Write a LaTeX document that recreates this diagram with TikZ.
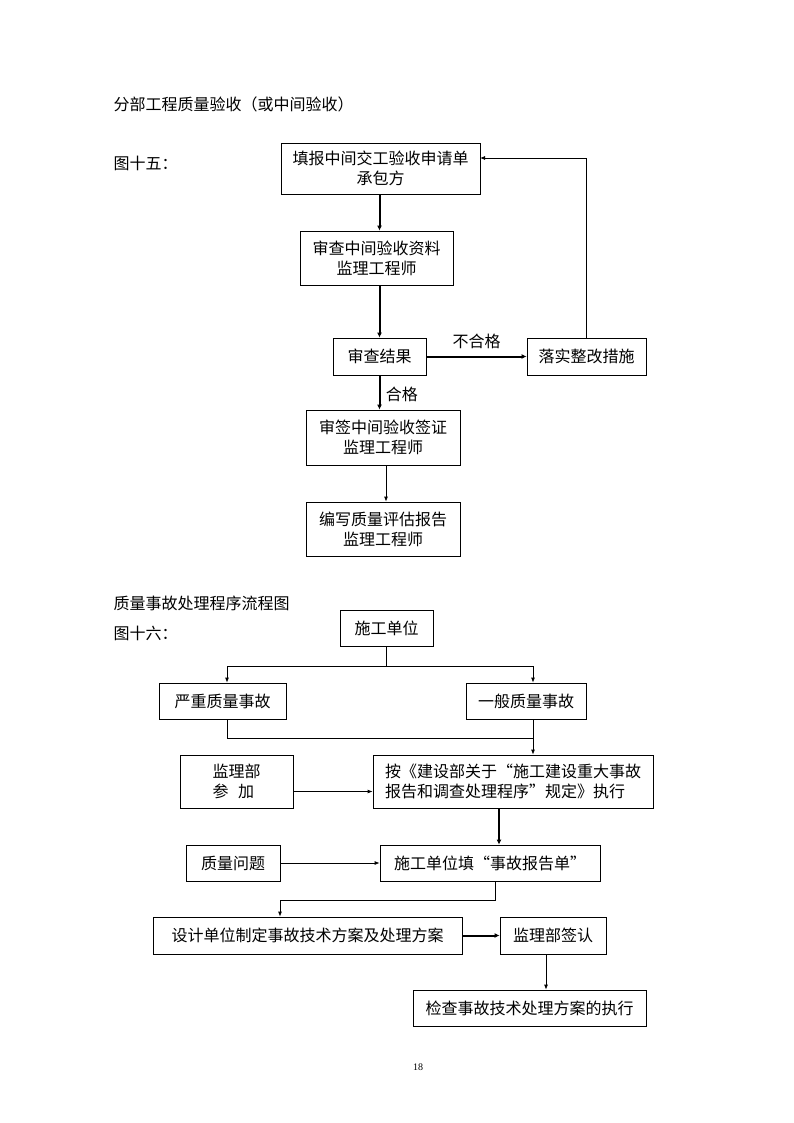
\documentclass[tikz,border=0pt]{standalone}
\usepackage{fontspec}
\setmainfont{Noto Sans CJK SC}
\newfontfamily\pagenumfont{Liberation Serif}
\usetikzlibrary{positioning, arrows.meta, calc}

\begin{document}
\begin{tikzpicture}[x=1pt, y=-1pt,
    font=\fontsize{16}{20}\selectfont,
    box/.style={draw, line width=0.8pt, inner sep=0pt, align=center},
    leftbox/.style={draw, line width=0.8pt, inner sep=0pt, align=left},
    plain/.style={line width=0.8pt},
    thinarrow/.style={line width=0.8pt, -{Latex[length=5pt,width=4pt]}},
    thickarrow/.style={line width=2pt, -{Latex[length=5pt,width=5pt]}}]

    \useasboundingbox (0,0) rectangle (794,1123);

    % === 图十五 ===
    \node[anchor=west] (title1) at (110,104) {分部工程质量验收（或中间验收）};
    \node[anchor=west] (fig15) at (110,163) {图十五：};

    \node[box, minimum width=199pt, minimum height=51pt] (apply) at (380.5,168.5)
        {填报中间交工验收申请单\\承包方};
    \node[box, minimum width=153pt, minimum height=54pt] (review) at (376.5,258)
        {审查中间验收资料\\监理工程师};
    \node[box, minimum width=93pt, minimum height=37pt] (result) at (379.5,356.5) {审查结果};
    \node[box, minimum width=119pt, minimum height=37pt] (rectify) at (586.5,356.5) {落实整改措施};
    \node[box, minimum width=154pt, minimum height=55pt] (sign) at (383,437.5)
        {审签中间验收签证\\监理工程师};
    \node[box, minimum width=154pt, minimum height=54pt] (report) at (383,529)
        {编写质量评估报告\\监理工程师};
    \coordinate (applyin) at (480,158);

    \draw[thickarrow] (result.north |- apply.south) -- (result.north |- review.north);
    \draw[thickarrow] (result.north |- review.south) -- (result.north);
    \draw[thickarrow] (result.east) -- node[above=3pt] {不合格} (rectify.west);
    \draw[thinarrow] (rectify.north) |- (applyin);
    \draw[thickarrow] (result.south) -- node[right=2pt, pos=0.55] {合格} (result.south |- sign.north);
    \draw[thinarrow] ($(sign.south)+(3,0)$) -- ($(report.north)+(3,0)$);

    % === 图十六 ===
    \node[anchor=west] (title2) at (110,603) {质量事故处理程序流程图};
    \node[anchor=west] (fig16) at (110,633) {图十六：};

    \node[box, minimum width=93pt, minimum height=36pt] (unit) at (386.5,628) {施工单位};
    \node[box, minimum width=127pt, minimum height=36pt] (serious) at (222.5,701) {严重质量事故};
    \node[box, minimum width=120pt, minimum height=36pt] (general) at (526,701) {一般质量事故};
    \node[leftbox, minimum width=280pt, minimum height=53pt] (rule) at (513,781.5)
        {按《建设部关于“施工建设重大事故\\报告和调查处理程序”规定》执行};
    \node[leftbox, minimum width=113pt, minimum height=53pt] (office) at (236.5,781.5)
        {监理部\hspace{0.8em}\\参\hspace{0.6em}加\hspace{0.8em}};
    \node[box, minimum width=220pt, minimum height=36pt] (fill) at (490,863) {施工单位填“事故报告单”};
    \node[box, minimum width=94pt, minimum height=36pt] (problem) at (233,863) {质量问题};
    \node[box, minimum width=309pt, minimum height=37pt] (design) at (307.5,935.5)
        {设计单位制定事故技术方案及处理方案};
    \node[box, minimum width=106pt, minimum height=37pt] (confirm) at (553,935.5) {监理部签认};
    \node[box, minimum width=233pt, minimum height=36pt] (check) at (529.5,1008)
        {检查事故技术处理方案的执行};

    \coordinate (split) at (386.5,666);
    \coordinate (join) at (533,738);
    \coordinate (fillout) at (495,900);
    \coordinate (confirmout) at (546,954);

    \draw[plain] (unit.south) -- (split);
    \draw[thinarrow] (split) -| ($(serious.north)+(4.5,0)$);
    \draw[thinarrow] (split) -| (join |- general.north);
    \draw[plain] ($(serious.south)+(4.5,0)$) |- (join);
    \draw[thinarrow] (join |- general.south) -- (join |- rule.north);
    \draw[thinarrow] ($(office.east)+(0,10)$) -- ($(rule.west)+(0,10)$);
    \draw[thickarrow] ($(rule.south)+(-14,0)$) -- ($(fill.north)+(9,0)$);
    \draw[thinarrow] (problem.east) -- (fill.west);
    \draw[thinarrow] (fillout |- fill.south) -- (fillout) -| ($(design.north)+(-27.5,0)$);
    \draw[thickarrow] (design.east) -- (confirm.west);
    \draw[thinarrow] (confirmout) -- (confirmout |- check.north);

    \node[font=\pagenumfont\fontsize{10}{12}\selectfont] (pagenum) at (418,1067) {18};
\end{tikzpicture}
\end{document}
